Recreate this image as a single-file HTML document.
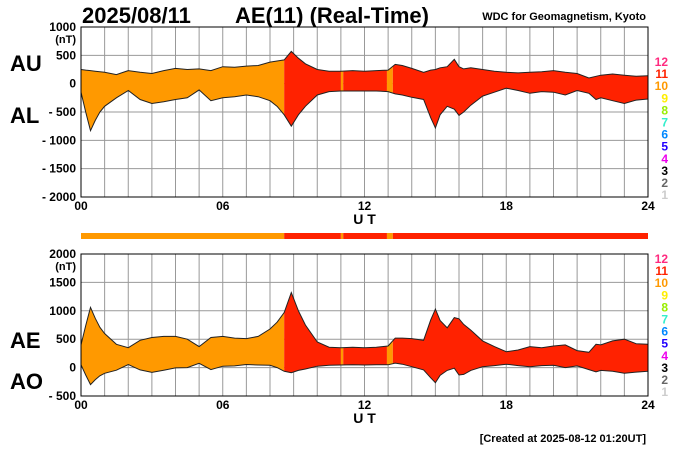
<!DOCTYPE html>
<html><head><meta charset="utf-8"><style>
body{margin:0;background:#fff}
svg{display:block;font-family:"Liberation Sans",sans-serif}
</style></head><body>
<svg id="c" width="700" height="450"></svg>
<script>
const times=[0,0.2,0.4,0.6,0.8,1,1.5,2,2.5,3,3.5,4,4.5,5,5.5,6,6.5,7,7.5,8,8.3,8.6,8.9,9.2,9.5,10,10.5,11,11.5,12,12.5,13,13.3,13.6,14,14.5,14.8,15,15.2,15.5,15.8,16,16.2,16.5,17,17.5,18,18.5,19,19.5,20,20.5,21,21.5,21.8,22,22.5,23,23.5,24];
const auValues=[250,240,230,220,210,200,160,230,200,180,230,270,250,260,230,300,290,310,320,380,400,420,570,450,350,250,220,220,230,220,230,240,340,320,270,200,240,250,280,300,430,300,260,280,250,220,200,190,200,210,230,200,180,100,130,150,170,150,130,140];
const alValues=[-150,-500,-830,-650,-500,-400,-250,-120,-280,-350,-320,-280,-250,-110,-300,-250,-230,-200,-230,-300,-400,-550,-750,-550,-400,-200,-140,-130,-130,-130,-130,-140,-180,-200,-240,-280,-600,-780,-550,-400,-450,-560,-500,-380,-220,-150,-80,-120,-170,-140,-150,-200,-120,-170,-280,-250,-300,-350,-290,-270];
const segStart=[0,8.6,11.0,11.1,12.95,13.2];
const segEnd=[8.6,11.0,11.1,12.95,13.2,24];
const segLevel=[10,11,10,11,10,11];
const xTicks=["00","06","12","18","24"];
const topYTicks=[1000,500,0,-500,-1000,-1500,-2000];
const botYTicks=[2000,1500,1000,500,0,-500];
const levels=[12,11,10,9,8,7,6,5,4,3,2,1];
const levelColors={12:"#ff2a7f",11:"#ff2200",10:"#ff9900",9:"#ffee00",8:"#99ee00",7:"#33eecc",6:"#0088ff",5:"#2200ff",4:"#ee00ee",3:"#000000",2:"#666666",1:"#cccccc"};

const NS="http://www.w3.org/2000/svg";
const svg=document.getElementById('c');
function mk(tag,attrs,parent){const e=document.createElementNS(NS,tag);for(const k in attrs)e.setAttribute(k,attrs[k]);(parent||svg).appendChild(e);return e;}
function txt(s,attrs,name){const e=mk('text',attrs);e.textContent=s;


return e;}
const X0=81,X1=648;
const xs=t=>X0+(X1-X0)*t/24;

function panel(id,yTop,yBot,vMax,vMin,upper,lower,ticks,lab1,lab2,lab1y,lab2y,legY){
  const ys=v=>yTop+(vMax-v)*(yBot-yTop)/(vMax-vMin);
  const g=mk('g',{});
  
  
  for(let h=1;h<24;h++){const l=mk('line',{x1:xs(h),x2:xs(h),y1:yTop,y2:yBot,stroke:'#999','stroke-width':1},g);
    }
  ticks.forEach(v=>{const l=mk('line',{x1:X0,x2:X1,y1:ys(v),y2:ys(v),stroke:'#999','stroke-width':1},g);
    });
  let d='';
  for(let i=0;i<times.length;i++)d+=(i?'L':'M')+xs(times[i]).toFixed(1)+','+ys(upper[i]).toFixed(1);
  for(let i=times.length-1;i>=0;i--)d+='L'+xs(times[i]).toFixed(1)+','+ys(lower[i]).toFixed(1);
  d+='Z';
  for(let s=0;s<segStart.length;s++){
    const cp=mk('clipPath',{id:id+'cp'+s},g);
    mk('rect',{x:xs(segStart[s]),y:yTop,width:xs(segEnd[s])-xs(segStart[s]),height:yBot-yTop},cp);
    const p=mk('path',{d:d,fill:levelColors[segLevel[s]],'clip-path':'url(#'+id+'cp'+s+')'},g);
    
    
  }
  [upper,lower].forEach((arr,k)=>{
    const pl=mk('polyline',{points:times.map((t,i)=>xs(t).toFixed(1)+','+ys(arr[i]).toFixed(1)).join(' '),fill:'none',stroke:'#222','stroke-width':1},g);
    
    
  });
  const fr=mk('rect',{x:X0,y:yTop,width:X1-X0,height:yBot-yTop,fill:'none',stroke:'#000','stroke-width':1},g);
  
  ticks.forEach(v=>{
    const s=v<0?'- '+(-v):String(v);
    txt(s,{x:76,y:ys(v)+4,'text-anchor':'end','font-size':12,'font-weight':'bold'},'y-tick-label');
  });
  txt('(nT)',{x:76,y:ys(ticks[0])+16,'text-anchor':'end','font-size':11,'font-weight':'bold'},'y-unit-label');
  xTicks.forEach((s,i)=>txt(s,{x:xs(i*6),y:yBot+13,'text-anchor':'middle','font-size':12,'font-weight':'bold'},'x-tick-label'));
  txt('U T',{x:xs(12),y:yBot+27,'text-anchor':'middle','font-size':14,'font-weight':'bold'},'x-axis-title');
  txt(lab1,{x:10,y:lab1y,'font-size':22,'font-weight':'bold'},'series-label-'+lab1.toLowerCase());
  txt(lab2,{x:10,y:lab2y,'font-size':22,'font-weight':'bold'},'series-label-'+lab2.toLowerCase());
  levels.forEach((lv,i)=>txt(String(lv),{x:668,y:legY+i*12.1+4,'text-anchor':'end','font-size':12,'font-weight':'bold',fill:levelColors[lv]},'legend-level-'+lv));
}
const ae=times.map((t,i)=>auValues[i]-alValues[i]);
const ao=times.map((t,i)=>(auValues[i]+alValues[i])/2);
panel('top',27,197,1000,-2000,auValues,alValues,topYTicks,'AU','AL',71,123,62);
panel('bottom',254,396,2000,-500,ae,ao,botYTicks,'AE','AO',348,389,259);
for(let s=0;s<segStart.length;s++){
  const r=mk('rect',{x:xs(segStart[s]),y:233,width:xs(segEnd[s])-xs(segStart[s]),height:6,fill:levelColors[segLevel[s]]});
  
  
}
txt('2025/08/11',{x:82,y:23,'font-size':22,'font-weight':'bold'},'date-title');
txt('AE(11) (Real-Time)',{x:235,y:23,'font-size':22,'font-weight':'bold'},'chart-title');
txt('WDC for Geomagnetism, Kyoto',{x:646,y:20,'text-anchor':'end','font-size':11,'font-weight':'bold'},'source-label');
txt('[Created at 2025-08-12 01:20UT]',{x:646,y:442,'text-anchor':'end','font-size':11,'font-weight':'bold'},'created-timestamp');
</script>
</body></html>
